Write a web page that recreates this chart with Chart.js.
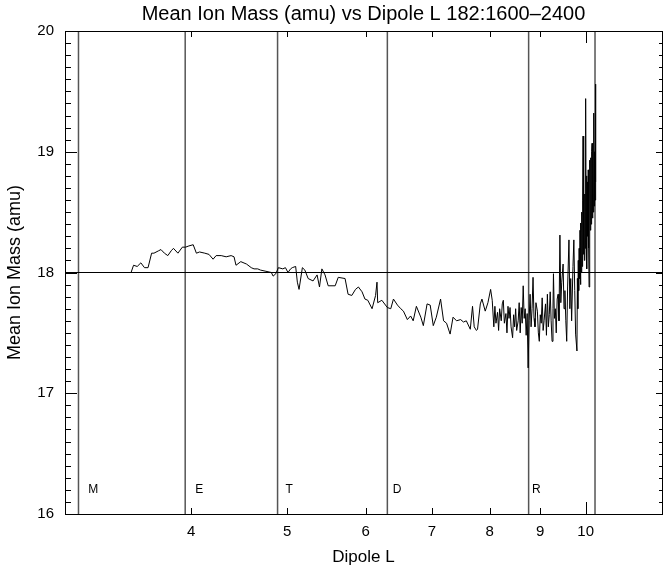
<!DOCTYPE html>
<html><head><meta charset="utf-8">
<script src="https://cdn.jsdelivr.net/npm/chart.js@4"></script>
<style>html,body{margin:0;padding:0;background:#fff}#wrap{width:663px;height:572px}</style>
</head><body><div id="wrap"><canvas id="c"></canvas></div>
<script>
const dipoleL = [
3.48,3.50,3.53,3.56,3.59,3.62,3.65,3.67,3.71,3.73,3.76,3.79,3.82,3.84,3.88,3.92,3.95,3.98,4.02,4.05,
4.08,4.13,4.17,4.21,4.24,4.29,4.34,4.39,4.42,4.44,4.49,4.55,4.60,4.63,4.67,4.70,4.76,4.82,4.84,4.87,
4.90,4.95,4.98,5.01,5.04,5.06,5.10,5.12,5.14,5.18,5.21,5.25,5.31,5.36,5.39,5.42,5.46,5.50,5.59,5.63,
5.72,5.76,5.81,5.86,5.90,5.95,5.99,6.03,6.09,6.14,6.16,6.17,6.23,6.31,6.36,6.40,6.46,6.51,6.55,6.61,
6.66,6.70,6.75,6.82,6.86,6.92,6.97,7.02,7.07,7.14,7.19,7.24,7.30,7.35,7.41,7.48,7.53,7.58,7.65,7.69,
7.72,7.76,7.78,7.83,7.86,7.92,7.97,8.02,8.05,
8.08,8.10,8.12,8.15,8.17,8.19,8.22,8.24,8.26,8.28,8.31,8.33,8.35,8.37,8.39,8.41,8.44,8.46,8.48,8.50,
8.52,8.55,8.57,8.59,8.61,8.63,8.65,8.67,8.69,8.71,8.73,8.75,8.77,8.79,8.81,8.83,8.85,8.87,8.89,8.91,
8.94,8.96,8.98,9.00,9.02,9.04,9.06,9.08,9.11,9.13,9.15,9.17,9.19,9.21,9.23,9.25,9.27,9.28,9.30,9.32,
9.34,9.36,9.38,9.40,9.42,9.44,9.46,9.49,9.51,9.53,9.55,9.57,9.59,9.62,9.64,9.66,9.68,9.71,9.73,9.75,
9.77,9.80,9.81,9.82,9.83,9.84,9.85,9.86,9.87,9.88,9.89,9.90,9.91,9.92,9.93,9.94,9.95,9.96,9.97,9.98,
9.99,10.00,10.01,10.02,10.03,10.04,10.05,10.06,10.07,10.08,10.09,10.10,10.11,10.12,10.13,10.14,10.15,10.16,10.17,10.18,
10.19,10.20,10.21,10.22,10.23,10.24
];
const ionMass = [
18.00,18.06,18.05,18.08,18.04,18.04,18.16,18.16,18.18,18.19,18.16,18.14,18.18,18.20,18.16,18.21,18.21,18.22,18.23,18.16,
18.17,18.16,18.15,18.11,18.14,18.14,18.13,18.14,18.13,18.06,18.09,18.07,18.04,18.03,18.03,18.02,18.01,18.00,17.97,17.99,
18.04,18.03,18.04,18.00,18.03,18.04,18.05,17.92,17.86,18.04,18.02,17.95,17.93,17.98,17.88,18.03,17.98,17.89,17.89,17.96,
17.95,17.82,17.81,17.86,17.88,17.84,17.78,17.77,17.70,17.81,17.92,17.75,17.77,17.71,17.70,17.78,17.73,17.70,17.68,17.61,
17.64,17.60,17.72,17.63,17.56,17.74,17.73,17.56,17.63,17.78,17.60,17.58,17.49,17.63,17.60,17.61,17.59,17.60,17.53,17.72,
17.55,17.52,17.53,17.74,17.78,17.68,17.75,17.86,17.77,
17.55,17.72,17.58,17.67,17.52,17.70,17.60,17.74,17.77,17.58,17.66,17.50,17.72,17.62,17.71,17.55,17.46,17.65,17.55,17.70,
17.52,17.60,17.75,17.50,17.71,17.58,17.89,17.62,17.70,17.48,17.66,17.21,17.60,17.82,17.55,17.70,17.96,17.62,17.55,17.75,
17.68,17.50,17.43,17.65,17.58,17.79,17.52,17.60,17.74,17.48,17.82,17.55,17.65,17.84,17.60,17.43,17.70,17.99,17.62,17.70,
17.50,17.78,17.82,17.60,18.31,17.75,17.92,18.07,17.70,17.85,17.60,17.43,17.88,18.27,17.70,17.95,17.60,18.05,18.27,17.85,
17.49,17.35,17.95,17.70,18.10,17.85,18.20,17.95,18.35,17.90,18.41,18.00,18.50,18.05,18.60,19.13,18.15,18.55,18.10,18.65,
18.20,19.44,18.25,18.80,18.03,18.75,18.30,18.85,18.20,17.88,18.85,18.93,18.35,18.95,18.40,19.00,19.07,18.45,19.05,18.50,
19.32,18.55,19.00,18.60,19.56,18.75
];
const regionLineL = [3.08, 3.946, 4.89, 6.31, 8.76, 10.22];
const regionLabels = ['M', 'E', 'T', 'D', 'R'];
const regionLabelL = [3.15, 4.04, 4.98, 6.39, 8.83];
const regionLabelMass = 16.2;
const refMass = 18;
const xTicks = [4, 5, 6, 7, 8, 9, 10];
const yTicks = [16, 17, 18, 19, 20];
const xRange = [2.985, 11.94];
const yRange = [16, 20];

const FONT = "'Liberation Sans', Arial, Helvetica, sans-serif";

const datasets = [{
  data: dipoleL.map((x, i) => ({x: x, y: ionMass[i]})),
  showLine: true, borderColor: '#000', borderWidth: 1, pointRadius: 0, tension: 0, order: 0
}, {
  data: [{x: xRange[0], y: refMass}, {x: xRange[1], y: refMass}],
  showLine: true, borderColor: '#000', borderWidth: 1.2, pointRadius: 0, order: 1
}];
regionLineL.forEach(L => datasets.push({
  data: [{x: L, y: yRange[0]}, {x: L, y: yRange[1]}],
  showLine: true, borderColor: '#555', borderWidth: 1.5, pointRadius: 0, order: 2
}));

const decor = {
  id: 'decor',
  afterDatasetsDraw(chart) {
    const ctx = chart.ctx, a = chart.chartArea;
    const xs = chart.scales.x, ys = chart.scales.y;
    ctx.save();
    ctx.strokeStyle = '#000';
    ctx.lineWidth = 1;
    ctx.beginPath();
    for (let k = yRange[0] * 10; k <= yRange[1] * 10; k++) {
      const v = k / 10;
      const y = Math.round(ys.getPixelForValue(v)) + 0.5;
      const major = k % 10 === 0;
      ctx.moveTo(a.left, y); ctx.lineTo(a.left + (major ? 12 : 6), y);
      ctx.moveTo(a.right, y); ctx.lineTo(a.right - (major ? 6 : 3), y);
    }
    xTicks.forEach(v => {
      const x = Math.round(xs.getPixelForValue(v)) + 0.5;
      const len = v === 10 ? 12 : 6;
      ctx.moveTo(x, a.bottom); ctx.lineTo(x, a.bottom - len);
      ctx.moveTo(x, a.top); ctx.lineTo(x, a.top + len);
    });
    ctx.stroke();
    ctx.strokeRect(Math.round(a.left) + 0.5, Math.round(a.top) + 0.5,
      Math.round(a.right - a.left), Math.round(a.bottom - a.top));
    ctx.fillStyle = '#000';
    ctx.font = '12px ' + FONT;
    ctx.textAlign = 'left';
    ctx.textBaseline = 'middle';
    regionLabels.forEach((t, i) => {
      ctx.fillText(t, xs.getPixelForValue(regionLabelL[i]), ys.getPixelForValue(regionLabelMass));
    });
    ctx.restore();
  }
};

new Chart(document.getElementById('c'), {
  type: 'scatter',
  data: {datasets},
  plugins: [decor],
  options: {
    responsive: true, maintainAspectRatio: false, animation: false, devicePixelRatio: 1,
    layout: {padding: {top: 0, right: 1, bottom: 0, left: 0}},
    plugins: {
      legend: {display: false}, tooltip: {enabled: false},
      title: {display: true, text: 'Mean Ion Mass (amu) vs Dipole L 182:1600\u20132400',
        color: '#000', font: {family: FONT, size: 20, weight: 'normal'},
        padding: {top: 2, bottom: 5}, fullSize: false}
    },
    scales: {
      x: {
        type: 'logarithmic', min: xRange[0], max: xRange[1], position: 'bottom',
        grid: {display: false, drawTicks: false}, border: {display: false},
        afterBuildTicks: s => { s.ticks = xTicks.map(v => ({value: v})); },
        afterFit: s => { s.height = 58; },
        ticks: {color: '#000', font: {family: FONT, size: 15}, padding: 9, maxRotation: 0, autoSkip: false,
          callback: v => String(v)},
        title: {display: true, text: 'Dipole L', color: '#000', font: {family: FONT, size: 17},
          padding: {top: 0, bottom: 4}}
      },
      y: {
        min: yRange[0], max: yRange[1],
        grid: {display: false, drawTicks: false}, border: {display: false},
        afterBuildTicks: s => { s.ticks = yTicks.map(v => ({value: v})); },
        afterFit: s => { s.width = 65; },
        ticks: {color: '#000', font: {family: FONT, size: 15}, padding: 11, callback: v => String(v)},
        title: {display: true, text: 'Mean Ion Mass (amu)', color: '#000', font: {family: FONT, size: 18},
          padding: {top: 4, bottom: 0}}
      }
    }
  }
});
</script>
</body></html>
